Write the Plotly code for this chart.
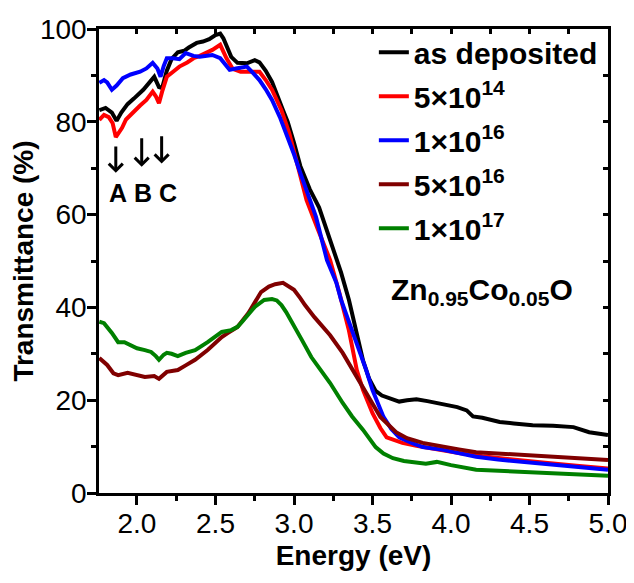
import plotly.graph_objects as go

# ---------------- data ----------------
e_dep = [1.76, 1.80, 1.84, 1.87, 1.90, 1.94, 1.98, 2.04, 2.08, 2.11, 2.14, 2.16, 2.19, 2.22, 2.26,
         2.30, 2.33, 2.38, 2.42, 2.46, 2.50, 2.53, 2.55, 2.58, 2.60, 2.64, 2.70, 2.75, 2.78, 2.82,
         2.86, 2.93, 2.96, 3.00, 3.04, 3.10, 3.16, 3.20, 3.25, 3.30, 3.35, 3.40, 3.44, 3.48, 3.52,
         3.56, 3.62, 3.67, 3.72, 3.78, 3.85, 3.95, 4.04, 4.10, 4.14, 4.20, 4.31, 4.40, 4.52, 4.65,
         4.78, 4.88, 5.00]
t_dep = [82.5, 83.0, 82.0, 80.2, 82.0, 83.8, 85.0, 86.9, 88.5, 89.7, 87.5, 87.3, 91.0, 93.5, 95.0,
         95.3, 96.0, 97.0, 97.3, 97.8, 98.7, 99.0, 98.0, 95.5, 94.0, 92.7, 92.6, 93.3, 92.8, 91.0,
         88.6, 82.5, 80.0, 75.5, 70.5, 65.5, 61.5, 57.5, 52.4, 47.5, 41.6, 34.0, 28.5, 24.5, 22.0,
         21.0, 20.3, 19.7, 20.0, 20.2, 19.8, 19.2, 18.5, 17.8, 16.5, 16.2, 15.3, 15.0, 14.6, 14.5,
         14.2, 13.1, 12.5]

e_514 = [1.76, 1.79, 1.82, 1.845, 1.865, 1.88, 1.905, 1.93, 1.97, 2.02, 2.06, 2.10, 2.12, 2.14, 2.16,
         2.19, 2.23, 2.27, 2.32, 2.36, 2.40, 2.44, 2.48, 2.53, 2.57, 2.61, 2.66, 2.70, 2.75, 2.78,
         2.82, 2.86, 2.92, 2.97, 3.02, 3.08, 3.15, 3.23, 3.29, 3.35, 3.40, 3.44, 3.50, 3.55, 3.59,
         3.65, 3.69, 3.78, 3.90, 4.05, 4.20, 4.40, 4.60, 4.80, 5.00]
t_514 = [80.4, 81.5, 81.0, 79.7, 76.7, 77.5, 78.7, 80.5, 81.9, 83.5, 84.7, 86.5, 85.5, 84.0, 86.5,
         89.7, 90.8, 91.9, 92.8, 93.7, 94.2, 94.8, 95.5, 96.6, 93.7, 91.4, 90.8, 90.8, 90.9, 90.8,
         89.0, 86.9, 82.5, 77.5, 71.0, 63.1, 57.0, 50.2, 43.0, 35.0, 26.5, 22.2, 17.2, 14.0, 12.0,
         11.2, 10.8, 10.2, 9.4, 8.6, 7.9, 7.1, 6.5, 5.9, 5.3]

e_116 = [1.76, 1.79, 1.81, 1.84, 1.87, 1.91, 1.96, 2.02, 2.06, 2.10, 2.13, 2.15, 2.17, 2.19, 2.23,
         2.27, 2.31, 2.36, 2.40, 2.44, 2.48, 2.53, 2.56, 2.59, 2.63, 2.70, 2.74, 2.78, 2.82, 2.86,
         2.91, 2.95, 3.00, 3.04, 3.09, 3.14, 3.21, 3.27, 3.30, 3.37, 3.42, 3.46, 3.50, 3.57, 3.62,
         3.67, 3.75, 3.82, 3.95, 4.05, 4.16, 4.30, 4.52, 4.75, 5.00]
t_116 = [88.4, 89.0, 88.5, 86.9, 87.8, 89.4, 90.2, 90.8, 91.5, 92.7, 91.5, 89.7, 92.0, 93.7, 93.7,
         93.5, 94.8, 94.2, 94.0, 94.3, 94.4, 93.7, 92.5, 91.2, 91.5, 91.9, 90.5, 89.0, 87.0, 84.7,
         81.0, 77.6, 73.0, 69.0, 64.0, 59.5, 50.2, 45.3, 41.6, 35.1, 30.0, 26.5, 22.2, 16.4, 13.8,
         12.0, 10.8, 9.9, 9.3, 8.5, 7.8, 7.2, 6.5, 5.7, 5.0]

e_516 = [1.76, 1.81, 1.85, 1.88, 1.94, 2.00, 2.05, 2.11, 2.14, 2.19, 2.26, 2.31, 2.37, 2.45, 2.54,
         2.58, 2.64, 2.71, 2.75, 2.79, 2.84, 2.88, 2.93, 2.97, 3.00, 3.04, 3.07, 3.13, 3.18, 3.23,
         3.31, 3.40, 3.46, 3.55, 3.65, 3.72, 3.82, 3.95, 4.05, 4.16, 4.30, 4.52, 4.75, 5.00]
t_516 = [29.1, 27.6, 25.8, 25.4, 25.9, 25.3, 25.0, 25.2, 24.6, 26.1, 26.5, 27.5, 28.7, 30.8, 33.6,
         34.5, 35.8, 38.8, 41.0, 43.3, 44.5, 45.0, 45.3, 44.5, 43.8, 42.0, 40.5, 37.9, 36.0, 34.0,
         30.2, 25.0, 21.5, 16.4, 13.1, 11.8, 10.8, 9.9, 9.4, 8.8, 8.5, 8.2, 7.7, 7.1]

e_117 = [1.76, 1.79, 1.84, 1.88, 1.92, 2.00, 2.05, 2.09, 2.12, 2.14, 2.17, 2.19, 2.22, 2.26, 2.31,
         2.37, 2.45, 2.54, 2.60, 2.64, 2.67, 2.71, 2.75, 2.81, 2.86, 2.89, 2.92, 2.95, 2.98, 3.05,
         3.11, 3.17, 3.23, 3.31, 3.37, 3.44, 3.52, 3.57, 3.63, 3.70, 3.78, 3.84, 3.91, 4.00, 4.16,
         4.35, 4.52, 4.75, 5.00]
t_117 = [36.9, 36.6, 34.5, 32.5, 32.5, 31.2, 30.8, 30.4, 29.5, 28.7, 29.8, 30.2, 30.0, 29.5, 30.2,
         30.8, 32.5, 34.7, 35.1, 35.8, 36.9, 38.5, 40.1, 41.6, 41.8, 41.5, 40.5, 39.0, 37.3, 33.0,
         29.3, 26.5, 23.7, 19.4, 16.5, 13.6, 9.9, 8.5, 7.5, 6.9, 6.5, 6.3, 6.7, 6.0, 5.0,
         4.7, 4.5, 4.2, 3.7]

series_names = ["as deposited", "5×10<sup>14</sup>", "1×10<sup>16</sup>",
                "5×10<sup>16</sup>", "1×10<sup>17</sup>"]
series_x = [e_dep, e_514, e_116, e_516, e_117]
series_y = [t_dep, t_514, t_116, t_516, t_117]
series_colors = ["#000000", "#ff0000", "#0000ff", "#800000", "#008000"]

x_ticks = [2.0, 2.5, 3.0, 3.5, 4.0, 4.5, 5.0]
x_tick_text = ["2.0", "2.5", "3.0", "3.5", "4.0", "4.5", "5.0"]
y_ticks = [0, 20, 40, 60, 80, 100]

arrow_x = [1.865, 2.03, 2.157]
arrow_top = [75.0, 76.8, 77.2]
arrow_bottom = [69.0, 70.3, 71.0]
arrow_labels = ["A", "B", "C"]
label_x = [1.877, 2.036, 2.196]
label_y = 64.6

FONT = "Arial, 'Liberation Sans', sans-serif"
XR = [1.758, 5.0]
YR = [0, 100]

fig = go.Figure()
for i, (nm, xs, ys, c) in enumerate(zip(series_names, series_x, series_y, series_colors)):
    fig.add_trace(go.Scatter(x=xs, y=ys, mode="lines", name="<b>" + nm + "</b>",
                             legendgroup=f"g{i}",
                             line=dict(color=c, width=4)))

# invisible helper trace for the mirrored (top/right) axes with inside ticks
fig.add_trace(go.Scatter(x=[XR[0]], y=[YR[0]], xaxis="x2", yaxis="y2", mode="markers",
                         marker=dict(opacity=0), showlegend=False, hoverinfo="skip"))

# the page body adds an 8 px offset, so the figure is drawn 8 px smaller with margins reduced by 8
fig.update_layout(
    width=626, height=575,
    paper_bgcolor="white", plot_bgcolor="white",
    margin=dict(l=91, r=26, t=21, b=90, autoexpand=False),
    font=dict(family=FONT, size=28, color="black"),
    showlegend=True,
    legend=dict(x=0.54, y=1.006, xanchor="left", yanchor="top",
                bgcolor="rgba(0,0,0,0)", font=dict(size=30, family=FONT),
                tracegroupgap=2, traceorder="grouped", itemwidth=30),
    xaxis=dict(range=XR, tickvals=x_ticks, ticktext=x_tick_text, ticks="outside",
               ticklen=9, tickwidth=2.5, tickcolor="black", automargin=False,
               ticklabelstandoff=-5,
               minor=dict(dtick=0.25, tick0=2.0, ticks="outside", ticklen=5, tickwidth=2.5, tickcolor="black"),
               showline=True, linewidth=2.5, linecolor="black", mirror=True,
               showgrid=False, zeroline=False,
               tickfont=dict(size=28, family=FONT),
               title=dict(text="<b>Energy (eV)</b>", font=dict(size=28, family=FONT), standoff=8)),
    yaxis=dict(range=YR, tickvals=y_ticks, ticks="outside",
               ticklen=9, tickwidth=2.5, tickcolor="black", automargin=False,
               ticklabelstandoff=-5,
               minor=dict(dtick=10, tick0=0, ticks="outside", ticklen=5, tickwidth=2.5, tickcolor="black"),
               showline=True, linewidth=2.5, linecolor="black", mirror=True,
               showgrid=False, zeroline=False,
               tickfont=dict(size=28, family=FONT),
               title=dict(text="<b>Transmittance (%)</b>", font=dict(size=28, family=FONT), standoff=0)),
    xaxis2=dict(range=XR, overlaying="x", side="top", anchor="y2", ticks="inside", dtick=0.25, tick0=2.0,
                ticklen=5, tickwidth=2.5, tickcolor="black", showticklabels=False, automargin=False,
                showgrid=False, zeroline=False, showline=False),
    yaxis2=dict(range=YR, overlaying="y", side="right", anchor="x2", ticks="inside", dtick=10, tick0=0,
                ticklen=5, tickwidth=2.5, tickcolor="black", showticklabels=False, automargin=False,
                showgrid=False, zeroline=False, showline=False),
)

for ax, yt, yb in zip(arrow_x, arrow_top, arrow_bottom):
    fig.add_annotation(x=ax, y=yb, ax=ax, ay=yt, xref="x", yref="y", axref="x", ayref="y",
                       text="", showarrow=True, arrowhead=4, arrowsize=0.9, arrowwidth=3,
                       arrowcolor="black")
for lx, lab in zip(label_x, arrow_labels):
    fig.add_annotation(x=lx, y=label_y, xref="x", yref="y", text="<b>" + lab + "</b>",
                       showarrow=False, font=dict(size=25, family=FONT, color="black"))

fig.add_annotation(x=4.20, y=43.5, xref="x", yref="y",
                   text="<b>Zn<sub>0.95</sub>Co<sub>0.05</sub>O</b>", showarrow=False,
                   font=dict(size=30, family=FONT, color="black"))

fig.write_html("out.html")
